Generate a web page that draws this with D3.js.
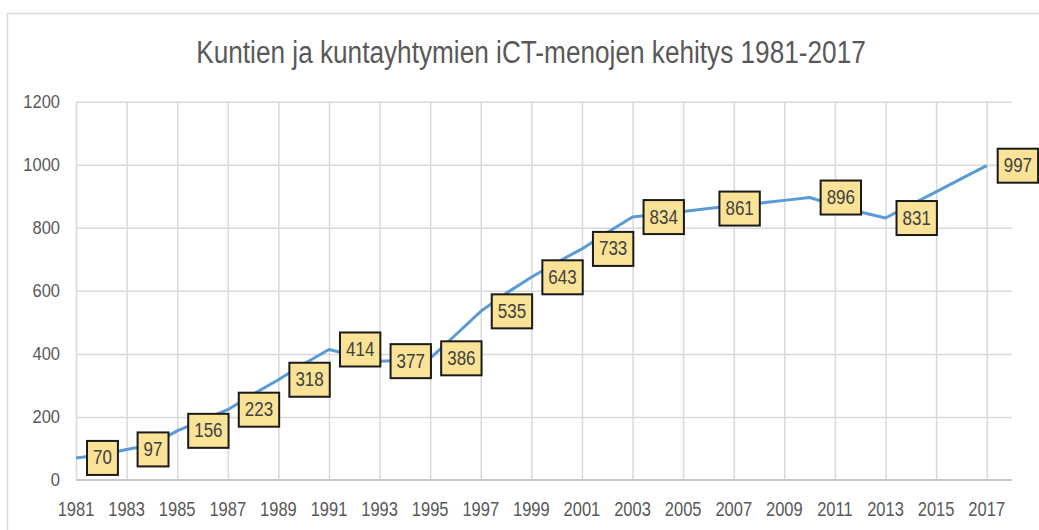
<!DOCTYPE html>
<html>
<head>
<meta charset="utf-8">
<script src="https://cdn.jsdelivr.net/npm/d3@7"></script>
<style>
  body { margin: 0; background: #fff; }
  svg { display: block; font-family: "Liberation Sans", Arial, sans-serif; }
</style>
</head>
<body>
<svg width="1039" height="530"></svg>
<script>
const title = "Kuntien ja kuntayhtymien iCT-menojen kehitys 1981-2017";

const years = [1981, 1982, 1983, 1984, 1985, 1986, 1987, 1988, 1989, 1990,
               1991, 1992, 1993, 1994, 1995, 1996, 1997, 1998, 1999, 2000,
               2001, 2002, 2003, 2004, 2005, 2006, 2007, 2008, 2009, 2010,
               2011, 2012, 2013, 2014, 2015, 2016, 2017];
const values = [70, 80, 97, 112, 156, 190, 223, 272, 318, 368,
                414, 395, 377, 380, 386, 460, 535, 592, 643, 690,
                733, 785, 834, 843, 852, 861, 870, 878, 887, 896,
                872, 850, 831, 873, 914, 956, 997];

// years that carry a data label
const labelYears = [1981, 1983, 1985, 1987, 1989, 1991, 1993, 1995, 1997, 1999,
                    2001, 2003, 2006, 2010, 2013, 2017];

const xTicks = [1981, 1983, 1985, 1987, 1989, 1991, 1993, 1995, 1997, 1999,
                2001, 2003, 2005, 2007, 2009, 2011, 2013, 2015, 2017];
const yTicks = [0, 200, 400, 600, 800, 1000, 1200];

const svg = d3.select("svg");

// chart frame
svg.append("rect")
    .attr("x", 7.5).attr("y", 13.5)
    .attr("width", 1060).attr("height", 540)
    .attr("fill", "#fff")
    .attr("stroke", "#d9d9d9")
    .attr("stroke-width", 1.5);

const pLeft = 76, pRight = 1012, pTop = 101.7, pBottom = 480;

const x = d3.scaleLinear().domain([1981, 2018]).range([pLeft, pRight]);
const y = d3.scaleLinear().domain([0, 1200]).range([pBottom, pTop]);

// horizontal grid
svg.append("g")
    .attr("transform", `translate(${pLeft},0)`)
    .call(d3.axisLeft(y).tickValues(yTicks.slice(1)).tickSize(-(pRight - pLeft)).tickFormat(""))
    .call(g => g.select(".domain").remove())
    .call(g => g.selectAll("line").attr("stroke", "#d9d9d9").attr("stroke-width", 1.5));

// vertical grid
svg.append("g")
    .attr("transform", `translate(0,${pBottom})`)
    .call(d3.axisBottom(x).tickValues(xTicks).tickSize(-(pBottom - pTop)).tickFormat(""))
    .call(g => g.select(".domain").remove())
    .call(g => g.selectAll("line").attr("stroke", "#d9d9d9").attr("stroke-width", 1.5));

// baseline
svg.append("line")
    .attr("x1", pLeft).attr("x2", pRight)
    .attr("y1", y(0)).attr("y2", y(0))
    .attr("stroke", "#c8c8c8").attr("stroke-width", 2);

// y tick labels
svg.append("g")
    .selectAll("text")
    .data(yTicks)
    .enter()
    .append("text")
    .attr("transform", d => `translate(60,${y(d) + 6}) scale(1,1.15)`)
    .attr("text-anchor", "end")
    .attr("font-size", "16.5px")
    .attr("fill", "#595959")
    .text(d => d);

// x tick labels
svg.append("g")
    .selectAll("text")
    .data(xTicks)
    .enter()
    .append("text")
    .attr("transform", d => `translate(${x(d)},516) scale(1,1.2)`)
    .attr("text-anchor", "middle")
    .attr("font-size", "16.5px")
    .attr("fill", "#595959")
    .text(d => d);

// line
const line = d3.line()
    .x((d, i) => x(years[i]))
    .y(d => y(d));

svg.append("path")
    .datum(values)
    .attr("d", line)
    .attr("fill", "none")
    .attr("stroke", "#5b9bd5")
    .attr("stroke-width", 3)
    .attr("stroke-linejoin", "round");

// data labels, placed right of the point
const labels = svg.append("g")
    .selectAll("g")
    .data(labelYears.map(yr => ({ year: yr, value: values[years.indexOf(yr)] })))
    .enter()
    .append("g")
    .attr("transform", d => `translate(${x(d.year) + 11},${y(d.value)})`);

labels.each(function(d) {
    const g = d3.select(this);
    const rect = g.append("rect");
    const t = g.append("text")
        .attr("font-size", "17px")
        .attr("fill", "#404040")
        .attr("text-anchor", "middle")
        .text(d.value);
    const w = t.node().getComputedTextLength() + 12;
    t.attr("transform", `translate(${w / 2},6.5) scale(1,1.15)`);
    rect.attr("x", 0).attr("y", -17)
        .attr("width", w).attr("height", 34)
        .attr("fill", "#fae296")
        .attr("stroke", "#1a1a1a")
        .attr("stroke-width", 2);
});

// title
const tt = svg.append("text")
    .attr("font-size", "24px")
    .attr("fill", "#595959")
    .attr("text-anchor", "middle")
    .text(title);
const scaleX = 670 / tt.node().getComputedTextLength();
tt.attr("font-size", (24 * scaleX).toFixed(1) + "px")
  .attr("transform", "translate(531,63) scale(1,1.2)");
</script>
</body>
</html>
